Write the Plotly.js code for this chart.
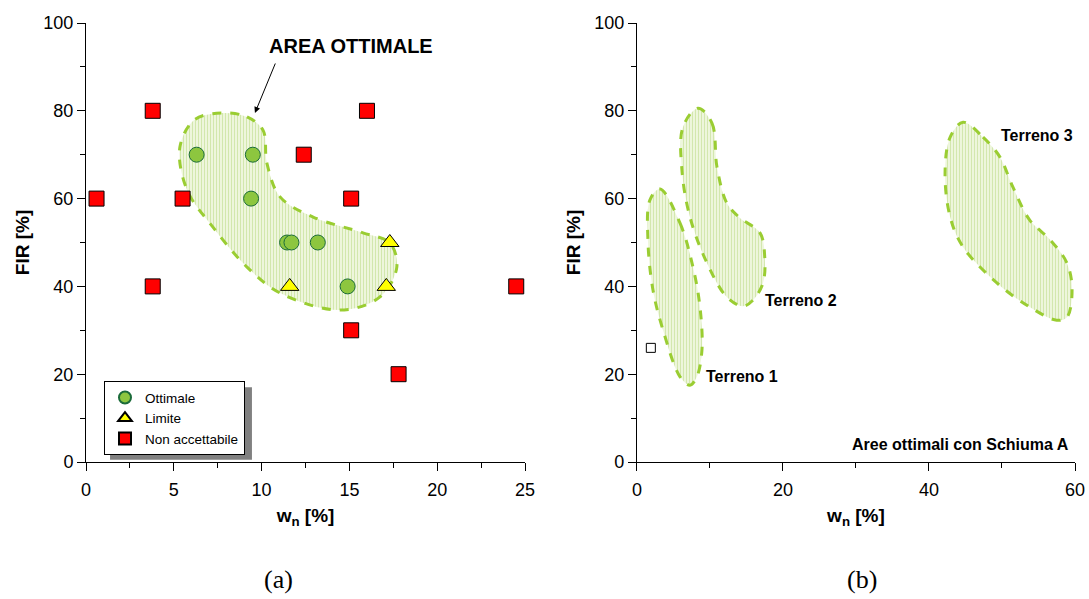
<!DOCTYPE html>
<html><head><meta charset="utf-8">
<script src="https://cdn.plot.ly/plotly-3.0.1.min.js"></script>
<style>html,body{margin:0;padding:0;background:#fff}#chart{width:1089px;height:599px}</style>
</head><body><div id="chart"></div>
<script>
// Panel (a) data
const ottX = [6.3, 9.5, 9.4, 11.45, 11.7, 13.2, 14.9];
const ottY = [70, 70, 60, 50, 50, 50, 40];
const limX = [11.6, 17.3, 17.1];
const limY = [40, 50, 40];
const nonX = [3.8, 16.0, 0.6, 5.5, 12.4, 15.1, 3.8, 15.1, 17.8, 24.5];
const nonY = [80, 80, 60, 60, 70, 60, 40, 30, 20, 40];
const areaX = [7.8, 9.17, 10.08, 10.3, 11.05, 12.93, 15.77, 17.3, 17.7, 16.74, 14.46, 11.05, 9.17, 7.23, 5.75, 5.35, 6.2, 7.8];
const areaY = [79.5, 78.6, 75.6, 68.1, 60.4, 55.8, 52.2, 49.9, 44.4, 37.6, 34.6, 38.5, 44.4, 53.5, 62, 71.8, 78, 79.5];
// Panel (b) data
const t1X = [3.15, 5.9, 7.67, 8.63, 8.9, 8.2, 7.26, 5.9, 3.56, 2.19, 1.5, 1.78, 3.15];
const t1Y = [62.2, 54.4, 44.4, 35.3, 25.5, 19.4, 17.5, 19.4, 30.1, 39.2, 50.6, 59.7, 62.2];
const t2X = [8.36, 10.27, 10.96, 12.3, 14.1, 16.85, 17.5, 17.26, 15.9, 14.5, 12.3, 9.6, 7.26, 6.16, 6.3, 8.36];
const t2Y = [80.6, 77.2, 67.2, 59, 55.6, 52.2, 46.7, 40.8, 36.9, 35.5, 37.6, 45.3, 55.8, 66.5, 76.3, 80.6];
const t3X = [44.66, 47.4, 49.7, 51.5, 53.8, 56.6, 58.9, 59.6, 58.9, 57.5, 53.8, 49.3, 44.66, 42.9, 42.2, 42.9, 44.66];
const t3Y = [77.4, 74, 69.5, 62.6, 55.1, 50.6, 45.3, 39.2, 33, 32.3, 35.3, 40.8, 49, 55.8, 65.8, 74, 77.4];
const openX = [1.9];
const openY = [26];

const SANS = '"Liberation Sans", Arial, sans-serif';
const SERIF = '"Liberation Serif", "Times New Roman", serif';

const blobLine = {color: '#9acd32', width: 3, dash: 'dash', shape: 'spline', smoothing: 1};
const blobPattern = {shape: '|', bgcolor: '#eef6dc', fgcolor: '#d2e7ad', size: 3, solidity: 0.35};
function blob(x, y, xa, ya) {
  return {x: x, y: y, xaxis: xa, yaxis: ya, mode: 'lines', fill: 'toself',
    fillcolor: '#eef6dc', fillpattern: blobPattern, line: blobLine, showlegend: false, hoverinfo: 'skip'};
}

const traces = [
  blob(areaX, areaY, 'x', 'y'),
  {x: ottX, y: ottY, mode: 'markers', name: 'Ottimale',
   marker: {symbol: 'circle', size: 15, color: '#8dc63f', line: {color: '#1b6b3a', width: 1}}},
  {x: limX, y: limY, mode: 'markers', name: 'Limite',
   marker: {symbol: 'triangle-up', size: 16, color: '#ffff00', line: {color: '#000', width: 1}}},
  {x: nonX, y: nonY, mode: 'markers', name: 'Non accettabile',
   marker: {symbol: 'square', size: 15, color: '#ff0000', line: {color: '#000', width: 1}}},
  blob(t1X, t1Y, 'x2', 'y2'),
  blob(t2X, t2Y, 'x2', 'y2'),
  blob(t3X, t3Y, 'x2', 'y2'),
  {x: openX, y: openY, xaxis: 'x2', yaxis: 'y2', mode: 'markers', showlegend: false,
   marker: {symbol: 'square-open', size: 9, color: '#000', line: {width: 1}}}
];

const axBase = {
  showgrid: false, zeroline: false, showline: true, linecolor: '#000', linewidth: 1,
  ticks: 'outside', ticklen: 8, tickcolor: '#000', tickwidth: 1,
  tickfont: {family: SANS, size: 18, color: '#000'},
  minor: {ticks: 'outside', ticklen: 5, tickcolor: '#000', showgrid: false}
};
const titleFont = {family: SANS, size: 19, color: '#000', weight: 'bold'};

const layout = {
  width: 1089, height: 599,
  margin: {l: 86, r: 14, t: 23, b: 137},
  paper_bgcolor: '#fff', plot_bgcolor: 'rgba(0,0,0,0)',
  font: {family: SANS},
  showlegend: true,
  legend: {x: 0.0182, y: 0.184, xanchor: 'left', yanchor: 'top', bgcolor: '#fff',
    bordercolor: '#000', borderwidth: 1, tracegroupgap: 0, itemsizing: 'constant',
    font: {family: SANS, size: 13.5, color: '#000'}},
  xaxis: Object.assign({}, axBase, {domain: [0, 0.4439], range: [0, 25], dtick: 5, ticklabelstandoff: 3,
    minor: Object.assign({}, axBase.minor, {dtick: 2.5}),
    title: {text: 'w<sub>n</sub> [%]', font: titleFont, standoff: 10}}),
  yaxis: Object.assign({}, axBase, {range: [0, 100], dtick: 20,
    minor: Object.assign({}, axBase.minor, {dtick: 10}),
    title: {text: 'FIR [%]', font: titleFont, standoff: 8}}),
  xaxis2: Object.assign({}, axBase, {domain: [0.5571, 1], range: [0, 60], dtick: 20, anchor: 'y2', ticklabelstandoff: 3,
    minor: Object.assign({}, axBase.minor, {dtick: 10}),
    title: {text: 'w<sub>n</sub> [%]', font: titleFont, standoff: 10}}),
  yaxis2: Object.assign({}, axBase, {range: [0, 100], dtick: 20, anchor: 'x2',
    minor: Object.assign({}, axBase.minor, {dtick: 10}),
    title: {text: 'FIR [%]', font: titleFont, standoff: 8}}),
  shapes: [
    {type: 'rect', xref: 'paper', yref: 'paper', x0: 0.0243, x1: 0.1678, y0: 0.005, y1: 0.170,
     fillcolor: '#808080', line: {width: 0}, layer: 'below'}
  ],
  annotations: [
    {xref: 'x', yref: 'y', x: 9.62, y: 79.5, ax: 21, ay: -51, text: '', showarrow: true,
     arrowhead: 2, arrowsize: 1.2, arrowwidth: 1, arrowcolor: '#000'},
    {xref: 'x', yref: 'y', x: 15.1, y: 94.7, text: '<b>AREA OTTIMALE</b>', showarrow: false,
     font: {family: SANS, size: 20, color: '#000'}},
    {xref: 'x2', yref: 'y2', x: 9.2, y: 19.4, xanchor: 'left', text: '<b>Terreno 1</b>', showarrow: false,
     font: {family: SANS, size: 16, color: '#000'}},
    {xref: 'x2', yref: 'y2', x: 17.3, y: 36.9, xanchor: 'left', text: '<b>Terreno 2</b>', showarrow: false,
     font: {family: SANS, size: 16, color: '#000'}},
    {xref: 'x2', yref: 'y2', x: 49.6, y: 74.3, xanchor: 'left', text: '<b>Terreno 3</b>', showarrow: false,
     font: {family: SANS, size: 16, color: '#000'}},
    {xref: 'x2', yref: 'y2', x: 59.4, y: 4.1, xanchor: 'right', text: '<b>Aree ottimali con Schiuma A</b>', showarrow: false,
     font: {family: SANS, size: 16, color: '#000'}},
    {xref: 'paper', yref: 'paper', x: 0.1945, y: -0.268, xanchor: 'center', yanchor: 'middle', text: '(a)', showarrow: false,
     font: {family: SERIF, size: 26, color: '#000'}},
    {xref: 'paper', yref: 'paper', x: 0.7845, y: -0.268, xanchor: 'center', yanchor: 'middle', text: '(b)', showarrow: false,
     font: {family: SERIF, size: 26, color: '#000'}}
  ]
};

Plotly.newPlot('chart', traces, layout, {displayModeBar: false, staticPlot: true});
</script>
</body></html>
